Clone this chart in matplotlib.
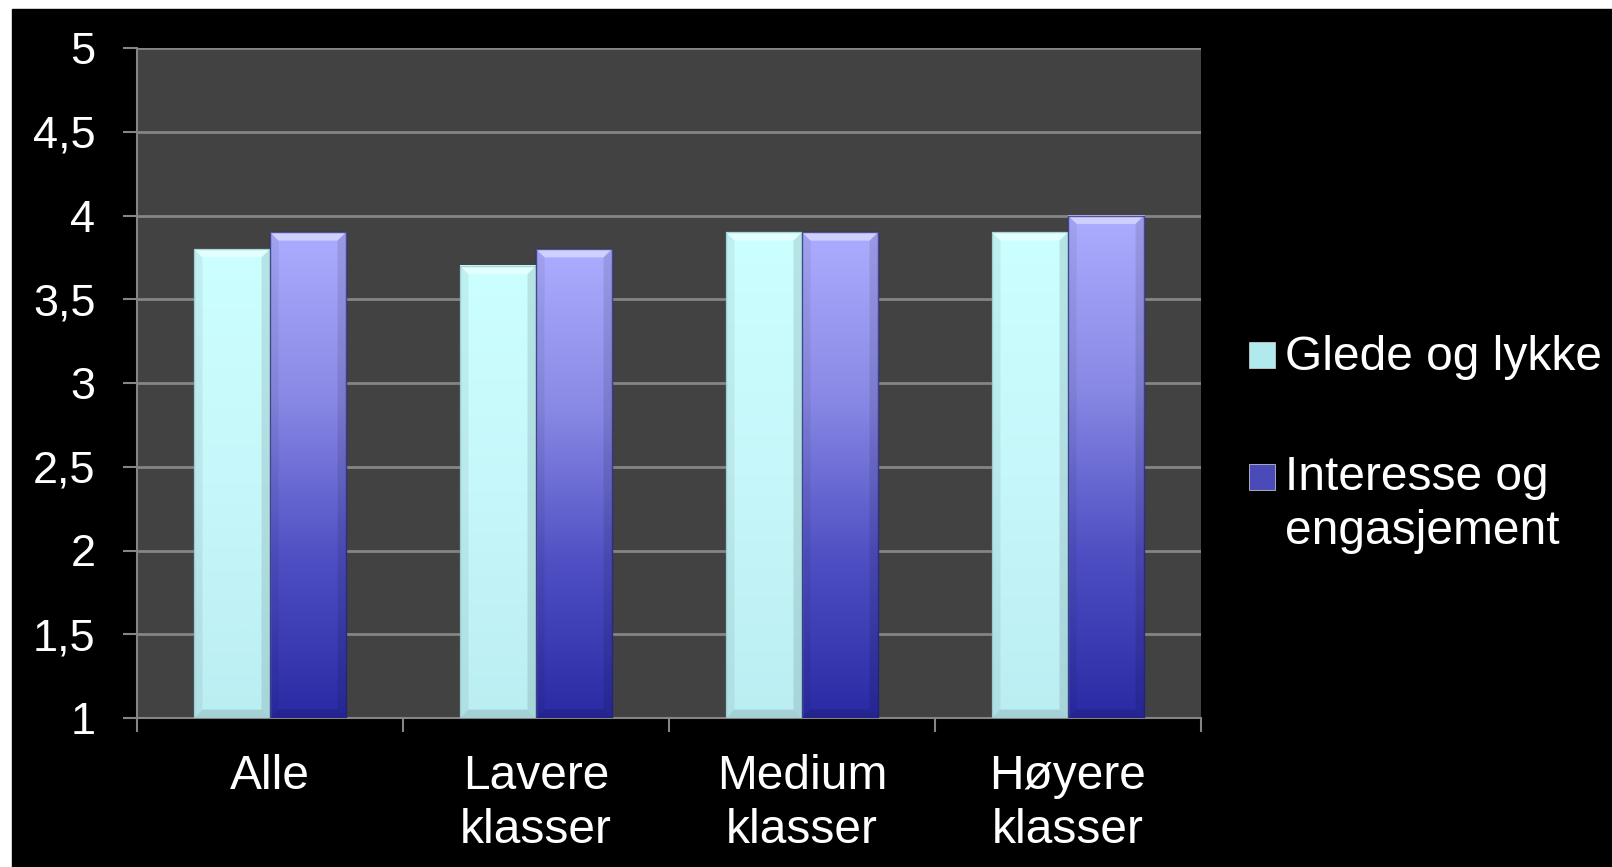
import numpy as np
import matplotlib
matplotlib.use("Agg")
import matplotlib.pyplot as plt
from matplotlib.colors import LinearSegmentedColormap
from matplotlib.patches import Rectangle, Polygon

categories = ["Alle", "Lavere\nklasser", "Medium\nklasser", "Høyere\nklasser"]
series_names = ["Glede og lykke", "Interesse og\nengasjement"]
glede = [3.8, 3.7, 3.9, 3.9]
interesse = [3.9, 3.8, 3.9, 4.0]
y_ticks = [1, 1.5, 2, 2.5, 3, 3.5, 4, 4.5, 5]

plt.rcParams['font.family'] = ['Liberation Sans', 'DejaVu Sans']

W, H = 1612, 867
fig = plt.figure(figsize=(W / 100, H / 100), dpi=100, facecolor='white')
# svart bakgrunn med hvit kant oppe og til venstre
fig.patches.append(Rectangle((12 / W, 0), 1 - 12 / W, (H - 9) / H,
                             transform=fig.transFigure, color='black', zorder=-10))

ax = fig.add_axes([137 / W, (H - 718) / H, 1064 / W, 670 / H])
ax.set_facecolor('#424242')

cmaps = [
    LinearSegmentedColormap.from_list('glede', ['#BBEEF2', '#C6F7FA', '#CCFFFF']),
    LinearSegmentedColormap.from_list('int', ['#2A2AA4', '#5050C4', '#8A8AE6', '#ACACFF']),
]
edge_cols = ['#8FC4C8', '#1E1E70']

bw = 0.286
grad = np.linspace(0, 1, 256).reshape(-1, 1)

def draw_bar(xc, v, cmap, ec):
    x0, x1 = xc - bw / 2, xc + bw / 2
    ax.imshow(grad, cmap=cmap, extent=[x0, x1, 1, v], origin='lower',
              aspect='auto', zorder=3, interpolation='bilinear')
    dx, dy = 0.032, 0.05
    ax.add_patch(Polygon([(x0, v), (x1, v), (x1 - dx, v - dy), (x0 + dx, v - dy)],
                         closed=True, facecolor='white', alpha=0.45, lw=0, zorder=4))
    ax.add_patch(Polygon([(x0, 1), (x1, 1), (x1 - dx, 1 + dy), (x0 + dx, 1 + dy)],
                         closed=True, facecolor='black', alpha=0.12, lw=0, zorder=4))
    ax.add_patch(Polygon([(x0, 1), (x0, v), (x0 + dx, v - dy), (x0 + dx, 1 + dy)],
                         closed=True, facecolor='black', alpha=0.06, lw=0, zorder=4))
    ax.add_patch(Polygon([(x1, 1), (x1, v), (x1 - dx, v - dy), (x1 - dx, 1 + dy)],
                         closed=True, facecolor='black', alpha=0.1, lw=0, zorder=4))
    ax.add_patch(Rectangle((x0, 1), bw, v - 1, fill=False, edgecolor=ec,
                           lw=1, alpha=0.7, zorder=5))

x = np.arange(len(categories))
for i in x:
    draw_bar(i - bw / 2, glede[i], cmaps[0], edge_cols[0])
    draw_bar(i + bw / 2, interesse[i], cmaps[1], edge_cols[1])

ax.set_xlim(-0.5, 3.5)
ax.set_ylim(1, 5)

ax.set_yticks(y_ticks)
ax.set_yticklabels([f"{t:g}".replace('.', ',') for t in y_ticks])
ax.set_xticks(np.arange(-0.5, 4.0, 1.0))
ax.set_xticklabels([])
ax.set_xticks(x, minor=True)
ax.set_xticklabels(categories, minor=True)

ax.grid(axis='y', color='#858585', lw=2, zorder=1)
ax.set_axisbelow(True)
for s in ['top', 'right']:
    ax.spines[s].set_visible(False)
for s in ['left', 'bottom']:
    ax.spines[s].set_color('#858585')
    ax.spines[s].set_linewidth(1.5)

ax.tick_params(axis='y', which='major', direction='out', length=10, width=1.5,
               color='#858585', labelcolor='white', labelsize=32.5, pad=20)
ax.tick_params(axis='x', which='major', direction='out', length=10, width=1.5,
               color='#858585')
ax.tick_params(axis='x', which='minor', length=0, labelcolor='white',
               labelsize=34.5, pad=26)
for lab in ax.get_xticklabels(minor=True):
    lab.set_linespacing(1.25)

# forklaring (legend) til høyre
leg_cols = ['#B0EAEC', '#4A4AB8']
leg_y = [355, 477]
for name, col, yy in zip(series_names, leg_cols, leg_y):
    fig.patches.append(Rectangle((1249 / W, 1 - (yy + 13) / H), 26 / W, 26 / H,
                                 transform=fig.transFigure, facecolor=col,
                                 edgecolor='#dddddd', lw=0.5))
    if '\n' in name:
        fig.text(1285 / W, 1 - (yy - 22) / H, name, color='white', fontsize=34.5,
                 ha='left', va='top', linespacing=1.25)
    else:
        fig.text(1285 / W, 1 - (yy + 2) / H, name, color='white', fontsize=34.5,
                 ha='left', va='center')

fig.savefig('out.png', dpi=100, facecolor=fig.get_facecolor())
